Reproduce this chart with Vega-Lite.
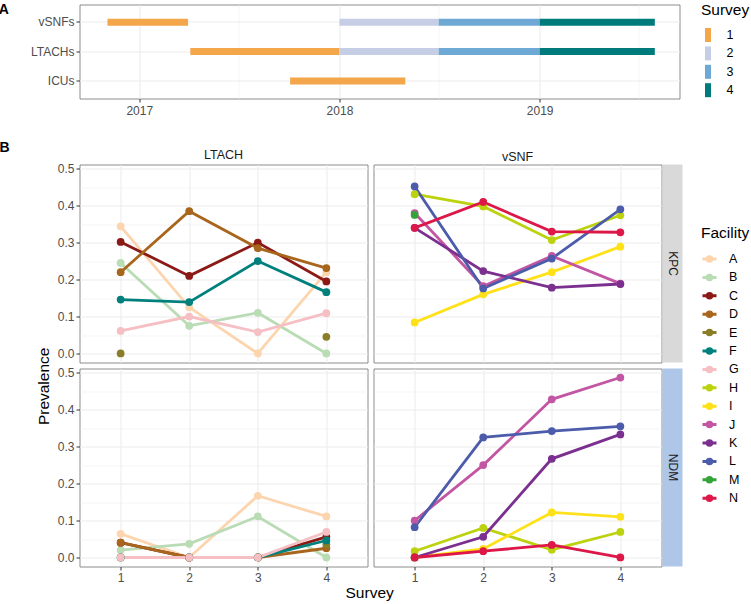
{
  "$schema": "https://vega.github.io/schema/vega-lite/v6.json",
  "padding": {"left": -2.5, "top": 2.5, "right": 0, "bottom": 0},
  "config": {
    "font": "Liberation Sans",
    "view": {"stroke": "#8C8C8C", "strokeWidth": 1},
    "axis": {"domain": false, "gridColor": "#EBEBEB", "tickColor": "#333333", "tickSize": 3.5, "labelColor": "#4D4D4D", "labelFontSize": 12, "labelPadding": 2, "titleFontSize": 15.5, "titleFontWeight": "normal", "titleColor": "#000000"},
    "legend": {"titleFontSize": 15.5, "titleFontWeight": "normal", "titleColor": "#000000", "labelFontSize": 12.5, "labelColor": "#000000"}
  },
  "datasets": {
    "gantt": [
      {"Setting": "vSNFs", "Survey": 1, "start": "2016-11-04", "end": "2017-03-31"},
      {"Setting": "LTACHs", "Survey": 1, "start": "2017-04-04", "end": "2018-01-01"},
      {"Setting": "ICUs", "Survey": 1, "start": "2017-10-03", "end": "2018-05-01"},
      {"Setting": "vSNFs", "Survey": 2, "start": "2018-01-01", "end": "2018-07-01"},
      {"Setting": "LTACHs", "Survey": 2, "start": "2018-01-01", "end": "2018-07-01"},
      {"Setting": "vSNFs", "Survey": 3, "start": "2018-07-01", "end": "2019-01-01"},
      {"Setting": "LTACHs", "Survey": 3, "start": "2018-07-01", "end": "2019-01-01"},
      {"Setting": "vSNFs", "Survey": 4, "start": "2019-01-01", "end": "2019-07-30"},
      {"Setting": "LTACHs", "Survey": 4, "start": "2019-01-01", "end": "2019-07-30"}
    ],
    "strips": [{"Pathogen": "KPC"}, {"Pathogen": "NDM"}],
    "prev": [
      {"Setting": "LTACH", "Pathogen": "KPC", "Facility": "A", "Survey": 1, "Prevalence": 0.344},
      {"Setting": "LTACH", "Pathogen": "KPC", "Facility": "A", "Survey": 2, "Prevalence": 0.125},
      {"Setting": "LTACH", "Pathogen": "KPC", "Facility": "A", "Survey": 3, "Prevalence": 0.0},
      {"Setting": "LTACH", "Pathogen": "KPC", "Facility": "A", "Survey": 4, "Prevalence": 0.22},
      {"Setting": "LTACH", "Pathogen": "KPC", "Facility": "B", "Survey": 1, "Prevalence": 0.245},
      {"Setting": "LTACH", "Pathogen": "KPC", "Facility": "B", "Survey": 2, "Prevalence": 0.075},
      {"Setting": "LTACH", "Pathogen": "KPC", "Facility": "B", "Survey": 3, "Prevalence": 0.11},
      {"Setting": "LTACH", "Pathogen": "KPC", "Facility": "B", "Survey": 4, "Prevalence": 0.0},
      {"Setting": "LTACH", "Pathogen": "KPC", "Facility": "C", "Survey": 1, "Prevalence": 0.302},
      {"Setting": "LTACH", "Pathogen": "KPC", "Facility": "C", "Survey": 2, "Prevalence": 0.21},
      {"Setting": "LTACH", "Pathogen": "KPC", "Facility": "C", "Survey": 3, "Prevalence": 0.3},
      {"Setting": "LTACH", "Pathogen": "KPC", "Facility": "C", "Survey": 4, "Prevalence": 0.195},
      {"Setting": "LTACH", "Pathogen": "KPC", "Facility": "D", "Survey": 1, "Prevalence": 0.22},
      {"Setting": "LTACH", "Pathogen": "KPC", "Facility": "D", "Survey": 2, "Prevalence": 0.385},
      {"Setting": "LTACH", "Pathogen": "KPC", "Facility": "D", "Survey": 3, "Prevalence": 0.285},
      {"Setting": "LTACH", "Pathogen": "KPC", "Facility": "D", "Survey": 4, "Prevalence": 0.231},
      {"Setting": "LTACH", "Pathogen": "KPC", "Facility": "E", "Survey": 1, "Prevalence": 0.0},
      {"Setting": "LTACH", "Pathogen": "KPC", "Facility": "E", "Survey": 4, "Prevalence": 0.045},
      {"Setting": "LTACH", "Pathogen": "KPC", "Facility": "F", "Survey": 1, "Prevalence": 0.146},
      {"Setting": "LTACH", "Pathogen": "KPC", "Facility": "F", "Survey": 2, "Prevalence": 0.139},
      {"Setting": "LTACH", "Pathogen": "KPC", "Facility": "F", "Survey": 3, "Prevalence": 0.25},
      {"Setting": "LTACH", "Pathogen": "KPC", "Facility": "F", "Survey": 4, "Prevalence": 0.166},
      {"Setting": "LTACH", "Pathogen": "KPC", "Facility": "G", "Survey": 1, "Prevalence": 0.061},
      {"Setting": "LTACH", "Pathogen": "KPC", "Facility": "G", "Survey": 2, "Prevalence": 0.1},
      {"Setting": "LTACH", "Pathogen": "KPC", "Facility": "G", "Survey": 3, "Prevalence": 0.058},
      {"Setting": "LTACH", "Pathogen": "KPC", "Facility": "G", "Survey": 4, "Prevalence": 0.109},
      {"Setting": "LTACH", "Pathogen": "NDM", "Facility": "A", "Survey": 1, "Prevalence": 0.064},
      {"Setting": "LTACH", "Pathogen": "NDM", "Facility": "A", "Survey": 2, "Prevalence": 0.0},
      {"Setting": "LTACH", "Pathogen": "NDM", "Facility": "A", "Survey": 3, "Prevalence": 0.167},
      {"Setting": "LTACH", "Pathogen": "NDM", "Facility": "A", "Survey": 4, "Prevalence": 0.111},
      {"Setting": "LTACH", "Pathogen": "NDM", "Facility": "B", "Survey": 1, "Prevalence": 0.02},
      {"Setting": "LTACH", "Pathogen": "NDM", "Facility": "B", "Survey": 2, "Prevalence": 0.037},
      {"Setting": "LTACH", "Pathogen": "NDM", "Facility": "B", "Survey": 3, "Prevalence": 0.111},
      {"Setting": "LTACH", "Pathogen": "NDM", "Facility": "B", "Survey": 4, "Prevalence": 0.0},
      {"Setting": "LTACH", "Pathogen": "NDM", "Facility": "C", "Survey": 1, "Prevalence": 0.04},
      {"Setting": "LTACH", "Pathogen": "NDM", "Facility": "C", "Survey": 2, "Prevalence": 0.0},
      {"Setting": "LTACH", "Pathogen": "NDM", "Facility": "C", "Survey": 3, "Prevalence": 0.0},
      {"Setting": "LTACH", "Pathogen": "NDM", "Facility": "C", "Survey": 4, "Prevalence": 0.056},
      {"Setting": "LTACH", "Pathogen": "NDM", "Facility": "D", "Survey": 1, "Prevalence": 0.04},
      {"Setting": "LTACH", "Pathogen": "NDM", "Facility": "D", "Survey": 2, "Prevalence": 0.0},
      {"Setting": "LTACH", "Pathogen": "NDM", "Facility": "D", "Survey": 3, "Prevalence": 0.0},
      {"Setting": "LTACH", "Pathogen": "NDM", "Facility": "D", "Survey": 4, "Prevalence": 0.025},
      {"Setting": "LTACH", "Pathogen": "NDM", "Facility": "E", "Survey": 1, "Prevalence": 0.0},
      {"Setting": "LTACH", "Pathogen": "NDM", "Facility": "E", "Survey": 4, "Prevalence": 0.035},
      {"Setting": "LTACH", "Pathogen": "NDM", "Facility": "F", "Survey": 1, "Prevalence": 0.0},
      {"Setting": "LTACH", "Pathogen": "NDM", "Facility": "F", "Survey": 2, "Prevalence": 0.0},
      {"Setting": "LTACH", "Pathogen": "NDM", "Facility": "F", "Survey": 3, "Prevalence": 0.0},
      {"Setting": "LTACH", "Pathogen": "NDM", "Facility": "F", "Survey": 4, "Prevalence": 0.046},
      {"Setting": "LTACH", "Pathogen": "NDM", "Facility": "G", "Survey": 1, "Prevalence": 0.0},
      {"Setting": "LTACH", "Pathogen": "NDM", "Facility": "G", "Survey": 2, "Prevalence": 0.0},
      {"Setting": "LTACH", "Pathogen": "NDM", "Facility": "G", "Survey": 3, "Prevalence": 0.0},
      {"Setting": "LTACH", "Pathogen": "NDM", "Facility": "G", "Survey": 4, "Prevalence": 0.069},
      {"Setting": "vSNF", "Pathogen": "KPC", "Facility": "H", "Survey": 1, "Prevalence": 0.431},
      {"Setting": "vSNF", "Pathogen": "KPC", "Facility": "H", "Survey": 2, "Prevalence": 0.398},
      {"Setting": "vSNF", "Pathogen": "KPC", "Facility": "H", "Survey": 3, "Prevalence": 0.307},
      {"Setting": "vSNF", "Pathogen": "KPC", "Facility": "H", "Survey": 4, "Prevalence": 0.374},
      {"Setting": "vSNF", "Pathogen": "KPC", "Facility": "I", "Survey": 1, "Prevalence": 0.084},
      {"Setting": "vSNF", "Pathogen": "KPC", "Facility": "I", "Survey": 2, "Prevalence": 0.16},
      {"Setting": "vSNF", "Pathogen": "KPC", "Facility": "I", "Survey": 3, "Prevalence": 0.22},
      {"Setting": "vSNF", "Pathogen": "KPC", "Facility": "I", "Survey": 4, "Prevalence": 0.289},
      {"Setting": "vSNF", "Pathogen": "KPC", "Facility": "J", "Survey": 1, "Prevalence": 0.38},
      {"Setting": "vSNF", "Pathogen": "KPC", "Facility": "J", "Survey": 2, "Prevalence": 0.182},
      {"Setting": "vSNF", "Pathogen": "KPC", "Facility": "J", "Survey": 3, "Prevalence": 0.264},
      {"Setting": "vSNF", "Pathogen": "KPC", "Facility": "J", "Survey": 4, "Prevalence": 0.189},
      {"Setting": "vSNF", "Pathogen": "KPC", "Facility": "K", "Survey": 1, "Prevalence": 0.34},
      {"Setting": "vSNF", "Pathogen": "KPC", "Facility": "K", "Survey": 2, "Prevalence": 0.223},
      {"Setting": "vSNF", "Pathogen": "KPC", "Facility": "K", "Survey": 3, "Prevalence": 0.178},
      {"Setting": "vSNF", "Pathogen": "KPC", "Facility": "K", "Survey": 4, "Prevalence": 0.188},
      {"Setting": "vSNF", "Pathogen": "KPC", "Facility": "L", "Survey": 1, "Prevalence": 0.452},
      {"Setting": "vSNF", "Pathogen": "KPC", "Facility": "L", "Survey": 2, "Prevalence": 0.176},
      {"Setting": "vSNF", "Pathogen": "KPC", "Facility": "L", "Survey": 3, "Prevalence": 0.257},
      {"Setting": "vSNF", "Pathogen": "KPC", "Facility": "L", "Survey": 4, "Prevalence": 0.39},
      {"Setting": "vSNF", "Pathogen": "KPC", "Facility": "M", "Survey": 1, "Prevalence": 0.375},
      {"Setting": "vSNF", "Pathogen": "KPC", "Facility": "N", "Survey": 1, "Prevalence": 0.34},
      {"Setting": "vSNF", "Pathogen": "KPC", "Facility": "N", "Survey": 2, "Prevalence": 0.41},
      {"Setting": "vSNF", "Pathogen": "KPC", "Facility": "N", "Survey": 3, "Prevalence": 0.33},
      {"Setting": "vSNF", "Pathogen": "KPC", "Facility": "N", "Survey": 4, "Prevalence": 0.328},
      {"Setting": "vSNF", "Pathogen": "NDM", "Facility": "H", "Survey": 1, "Prevalence": 0.017},
      {"Setting": "vSNF", "Pathogen": "NDM", "Facility": "H", "Survey": 2, "Prevalence": 0.08},
      {"Setting": "vSNF", "Pathogen": "NDM", "Facility": "H", "Survey": 3, "Prevalence": 0.021},
      {"Setting": "vSNF", "Pathogen": "NDM", "Facility": "H", "Survey": 4, "Prevalence": 0.069},
      {"Setting": "vSNF", "Pathogen": "NDM", "Facility": "I", "Survey": 1, "Prevalence": 0.0},
      {"Setting": "vSNF", "Pathogen": "NDM", "Facility": "I", "Survey": 2, "Prevalence": 0.023},
      {"Setting": "vSNF", "Pathogen": "NDM", "Facility": "I", "Survey": 3, "Prevalence": 0.122},
      {"Setting": "vSNF", "Pathogen": "NDM", "Facility": "I", "Survey": 4, "Prevalence": 0.11},
      {"Setting": "vSNF", "Pathogen": "NDM", "Facility": "J", "Survey": 1, "Prevalence": 0.1},
      {"Setting": "vSNF", "Pathogen": "NDM", "Facility": "J", "Survey": 2, "Prevalence": 0.25},
      {"Setting": "vSNF", "Pathogen": "NDM", "Facility": "J", "Survey": 3, "Prevalence": 0.428},
      {"Setting": "vSNF", "Pathogen": "NDM", "Facility": "J", "Survey": 4, "Prevalence": 0.487},
      {"Setting": "vSNF", "Pathogen": "NDM", "Facility": "K", "Survey": 1, "Prevalence": 0.0},
      {"Setting": "vSNF", "Pathogen": "NDM", "Facility": "K", "Survey": 2, "Prevalence": 0.056},
      {"Setting": "vSNF", "Pathogen": "NDM", "Facility": "K", "Survey": 3, "Prevalence": 0.267},
      {"Setting": "vSNF", "Pathogen": "NDM", "Facility": "K", "Survey": 4, "Prevalence": 0.333},
      {"Setting": "vSNF", "Pathogen": "NDM", "Facility": "L", "Survey": 1, "Prevalence": 0.082},
      {"Setting": "vSNF", "Pathogen": "NDM", "Facility": "L", "Survey": 2, "Prevalence": 0.325},
      {"Setting": "vSNF", "Pathogen": "NDM", "Facility": "L", "Survey": 3, "Prevalence": 0.342},
      {"Setting": "vSNF", "Pathogen": "NDM", "Facility": "L", "Survey": 4, "Prevalence": 0.355},
      {"Setting": "vSNF", "Pathogen": "NDM", "Facility": "M", "Survey": 1, "Prevalence": 0.0},
      {"Setting": "vSNF", "Pathogen": "NDM", "Facility": "N", "Survey": 1, "Prevalence": 0.0},
      {"Setting": "vSNF", "Pathogen": "NDM", "Facility": "N", "Survey": 2, "Prevalence": 0.017},
      {"Setting": "vSNF", "Pathogen": "NDM", "Facility": "N", "Survey": 3, "Prevalence": 0.034},
      {"Setting": "vSNF", "Pathogen": "NDM", "Facility": "N", "Survey": 4, "Prevalence": 0.0}
    ]
  },
  "resolve": {"scale": {"color": "independent"}, "legend": {"color": "independent"}},
  "spacing": 23,
  "vconcat": [
    {
      "title": {"text": "A", "orient": "left", "anchor": "end", "frame": "bounds", "angle": 0, "align": "right", "baseline": "top", "fontSize": 14, "fontWeight": "bold", "color": "#000000", "offset": 11.5},
      "width": 600,
      "height": 94,
      "data": {"name": "gantt"},
      "mark": {"type": "bar", "size": 7},
      "encoding": {
        "y": {"field": "Setting", "type": "nominal", "sort": ["vSNFs", "LTACHs", "ICUs"], "scale": {"type": "band", "paddingInner": 0, "paddingOuter": 0.1}, "axis": {"title": null, "grid": true}},
        "x": {"field": "start", "type": "temporal",
          "scale": {"domain": [{"year": 2016, "month": 9, "date": 14}, {"year": 2019, "month": 9, "date": 13}]},
          "axis": {"title": null, "grid": true, "labelOverlap": false, "labelPadding": 3.5,
            "values": [{"year": 2017, "month": 1, "date": 1}, {"year": 2017, "month": 7, "date": 1}, {"year": 2018, "month": 1, "date": 1}, {"year": 2018, "month": 7, "date": 1}, {"year": 2019, "month": 1, "date": 1}, {"year": 2019, "month": 7, "date": 1}],
            "labelExpr": "month(datum.value) == 0 ? timeFormat(datum.value, '%Y') : ''",
            "tickColor": {"condition": {"test": "month(datum.value) != 0", "value": "transparent"}, "value": "#333333"},
            "gridWidth": {"condition": {"test": "month(datum.value) != 0", "value": 0.5}, "value": 1}}},
        "x2": {"field": "end"},
        "color": {"field": "Survey", "type": "nominal",
          "scale": {"domain": [1, 2, 3, 4], "range": ["#F4A64A", "#C6CEE6", "#6EA8D4", "#007B7C"]},
          "legend": {"title": "Survey", "orient": "none", "legendX": 621.5, "legendY": -1.5, "symbolType": "M-0.43,-1H0.43V1H-0.43Z", "symbolSize": 196, "symbolStrokeWidth": 0, "rowPadding": 4.4, "labelOffset": 11.5, "titlePadding": 9.5}}
      }
    },
    {
      "title": {"text": "B", "orient": "left", "anchor": "end", "frame": "bounds", "angle": 0, "align": "right", "baseline": "top", "fontSize": 14, "fontWeight": "bold", "color": "#000000", "offset": 17.5, "dy": -8},
      "vconcat": [
        {
          "title": {"text": "Prevalence", "orient": "left", "anchor": "middle", "frame": "bounds", "fontSize": 15.5, "fontWeight": "normal", "color": "#000000", "offset": 4, "dx": -11.5},
          "spacing": 2,
          "vconcat": [
            {
              "spacing": 4,
              "hconcat": [
                {
                  "title": {"text": "LTACH", "fontSize": 12.5, "fontWeight": "normal", "color": "#1A1A1A", "offset": 1},
                  "width": 288, "height": 198,
                  "data": {"name": "prev"},
                  "transform": [{"filter": "datum.Setting == 'LTACH' && datum.Pathogen == 'KPC'"}],
                  "encoding": {
                    "x": {"field": "Survey", "type": "ordinal", "scale": {"type": "point", "padding": 0.6, "domain": [1, 2, 3, 4]}, "axis": {"title": null, "labels": false, "ticks": false, "grid": true}},
                    "y": {"field": "Prevalence", "type": "quantitative", "scale": {"domain": [-0.0244, 0.5114], "nice": false, "zero": false},
                      "axis": {"title": null, "values": [0, 0.05, 0.1, 0.15, 0.2, 0.25, 0.3, 0.35, 0.4, 0.45, 0.5], "labelOverlap": false,
                        "labelExpr": "round(datum.value * 20) % 2 == 0 ? format(datum.value, '.1f') : ''",
                        "tickColor": {"condition": {"test": "round(datum.value * 20) % 2 == 1", "value": "transparent"}, "value": "#333333"},
                        "gridWidth": {"condition": {"test": "round(datum.value * 20) % 2 == 1", "value": 0.5}, "value": 1}}},
                    "color": {"field": "Facility", "type": "nominal",
                      "scale": {"domain": ["A", "B", "C", "D", "E", "F", "G", "H", "I", "J", "K", "L", "M", "N"], "range": ["#FCD5AE", "#B9DCB5", "#8B1A16", "#A8651C", "#8A7D27", "#00807D", "#F5BFC3", "#BDD20F", "#FFE11A", "#C356A3", "#7B3090", "#4C5CAB", "#36A33A", "#DD1748"]},
                      "legend": {"title": "Facility", "orient": "none", "legendX": 621.5, "legendY": 61.5, "symbolType": "M-1,0H1M0.32,0A0.32,0.32,0,1,1,-0.32,0A0.32,0.32,0,1,1,0.32,0M0.1,0A0.1,0.1,0,1,1,-0.1,0A0.1,0.1,0,1,1,0.1,0", "symbolSize": 196, "symbolStrokeWidth": 3, "symbolOpacity": 1, "rowPadding": 1.4, "labelOffset": 11, "titlePadding": 9}}
                  },
                  "layer": [
                    {"transform": [{"filter": "datum.Facility != 'E' && datum.Facility != 'M'"}], "mark": {"type": "line", "strokeWidth": 2.8}},
                    {"mark": {"type": "point", "filled": true, "size": 60, "opacity": 1}}
                  ]
                },
                {
                  "spacing": 0,
                  "hconcat": [
                    {
                      "title": {"text": "vSNF", "fontSize": 12.5, "fontWeight": "normal", "color": "#1A1A1A", "offset": 1},
                      "width": 288, "height": 198,
                      "data": {"name": "prev"},
                      "transform": [{"filter": "datum.Setting == 'vSNF' && datum.Pathogen == 'KPC'"}],
                      "encoding": {
                        "x": {"field": "Survey", "type": "ordinal", "scale": {"type": "point", "padding": 0.6, "domain": [1, 2, 3, 4]}, "axis": {"title": null, "labels": false, "ticks": false, "grid": true}},
                        "y": {"field": "Prevalence", "type": "quantitative", "scale": {"domain": [-0.0244, 0.5114], "nice": false, "zero": false},
                          "axis": {"title": null, "labels": false, "ticks": false, "values": [0, 0.05, 0.1, 0.15, 0.2, 0.25, 0.3, 0.35, 0.4, 0.45, 0.5],
                            "gridWidth": {"condition": {"test": "round(datum.value * 20) % 2 == 1", "value": 0.5}, "value": 1}}},
                        "color": {"field": "Facility", "type": "nominal"}
                      },
                      "layer": [
                        {"transform": [{"filter": "datum.Facility != 'E' && datum.Facility != 'M'"}], "mark": {"type": "line", "strokeWidth": 2.8}},
                        {"mark": {"type": "point", "filled": true, "size": 60, "opacity": 1}}
                      ]
                    },
                    {
                      "width": 20, "height": 198,
                      "view": {"stroke": null},
                      "data": {"name": "strips"},
                      "transform": [{"filter": "datum.Pathogen == 'KPC'"}],
                      "encoding": {
                        "x": {"field": "Pathogen", "type": "nominal", "axis": null, "scale": {"paddingInner": 0, "paddingOuter": 0}},
                        "y": {"field": "Pathogen", "type": "nominal", "axis": null, "scale": {"paddingInner": 0, "paddingOuter": 0}}
                      },
                      "layer": [
                        {"mark": {"type": "rect", "color": "#D9D9D9"}},
                        {"mark": {"type": "text", "angle": 90, "fontSize": 12, "color": "#1A1A1A"}, "encoding": {"text": {"field": "Pathogen"}}}
                      ]
                    }
                  ]
                }
              ]
            },
            {
              "title": {"text": "Survey", "orient": "bottom", "anchor": "middle", "frame": "bounds", "fontSize": 15.5, "fontWeight": "normal", "color": "#000000", "offset": 2},
              "spacing": 4,
              "hconcat": [
                {
                  "width": 288, "height": 198,
                  "data": {"name": "prev"},
                  "transform": [{"filter": "datum.Setting == 'LTACH' && datum.Pathogen == 'NDM'"}],
                  "encoding": {
                    "x": {"field": "Survey", "type": "ordinal", "scale": {"type": "point", "padding": 0.6, "domain": [1, 2, 3, 4]}, "axis": {"title": null, "labelAngle": 0, "grid": true}},
                    "y": {"field": "Prevalence", "type": "quantitative", "scale": {"domain": [-0.0244, 0.5114], "nice": false, "zero": false},
                      "axis": {"title": null, "values": [0, 0.05, 0.1, 0.15, 0.2, 0.25, 0.3, 0.35, 0.4, 0.45, 0.5], "labelOverlap": false,
                        "labelExpr": "round(datum.value * 20) % 2 == 0 ? format(datum.value, '.1f') : ''",
                        "tickColor": {"condition": {"test": "round(datum.value * 20) % 2 == 1", "value": "transparent"}, "value": "#333333"},
                        "gridWidth": {"condition": {"test": "round(datum.value * 20) % 2 == 1", "value": 0.5}, "value": 1}}},
                    "color": {"field": "Facility", "type": "nominal"}
                  },
                  "layer": [
                    {"transform": [{"filter": "datum.Facility != 'E' && datum.Facility != 'M'"}], "mark": {"type": "line", "strokeWidth": 2.8}},
                    {"mark": {"type": "point", "filled": true, "size": 60, "opacity": 1}}
                  ]
                },
                {
                  "spacing": 0,
                  "hconcat": [
                    {
                      "width": 288, "height": 198,
                      "data": {"name": "prev"},
                      "transform": [{"filter": "datum.Setting == 'vSNF' && datum.Pathogen == 'NDM'"}],
                      "encoding": {
                        "x": {"field": "Survey", "type": "ordinal", "scale": {"type": "point", "padding": 0.6, "domain": [1, 2, 3, 4]}, "axis": {"title": null, "labelAngle": 0, "grid": true}},
                        "y": {"field": "Prevalence", "type": "quantitative", "scale": {"domain": [-0.0244, 0.5114], "nice": false, "zero": false},
                          "axis": {"title": null, "labels": false, "ticks": false, "values": [0, 0.05, 0.1, 0.15, 0.2, 0.25, 0.3, 0.35, 0.4, 0.45, 0.5],
                            "gridWidth": {"condition": {"test": "round(datum.value * 20) % 2 == 1", "value": 0.5}, "value": 1}}},
                        "color": {"field": "Facility", "type": "nominal"}
                      },
                      "layer": [
                        {"transform": [{"filter": "datum.Facility != 'E' && datum.Facility != 'M'"}], "mark": {"type": "line", "strokeWidth": 2.8}},
                        {"mark": {"type": "point", "filled": true, "size": 60, "opacity": 1}}
                      ]
                    },
                    {
                      "width": 20, "height": 198,
                      "view": {"stroke": null},
                      "data": {"name": "strips"},
                      "transform": [{"filter": "datum.Pathogen == 'NDM'"}],
                      "encoding": {
                        "x": {"field": "Pathogen", "type": "nominal", "axis": null, "scale": {"paddingInner": 0, "paddingOuter": 0}},
                        "y": {"field": "Pathogen", "type": "nominal", "axis": null, "scale": {"paddingInner": 0, "paddingOuter": 0}}
                      },
                      "layer": [
                        {"mark": {"type": "rect", "color": "#AEC7E8"}},
                        {"mark": {"type": "text", "angle": 90, "fontSize": 12, "color": "#1A1A1A"}, "encoding": {"text": {"field": "Pathogen"}}}
                      ]
                    }
                  ]
                }
              ]
            }
          ]
        }
      ]
    }
  ]
}
